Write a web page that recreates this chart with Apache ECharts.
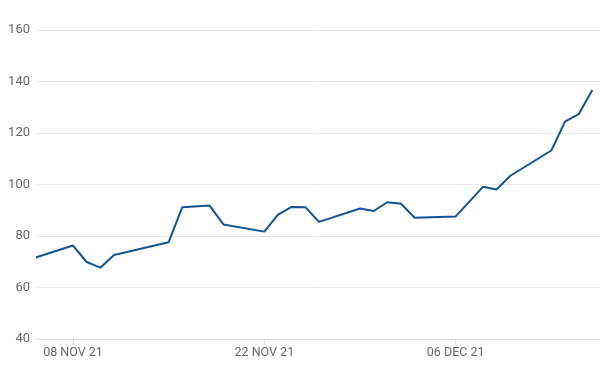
<!DOCTYPE html>
<html>
<head>
<meta charset="utf-8">
<script src="https://cdn.jsdelivr.net/npm/echarts@6/dist/echarts.min.js"></script>
<style>
html,body{margin:0;padding:0;background:#fff;}
#chart{width:600px;height:365px;}
</style>
</head>
<body>
<div id="chart"></div>
<script>
const dates = ["2021-11-05","2021-11-08","2021-11-09","2021-11-10","2021-11-11","2021-11-15","2021-11-16","2021-11-18","2021-11-19","2021-11-22","2021-11-23","2021-11-24","2021-11-25","2021-11-26","2021-11-29","2021-11-30","2021-12-01","2021-12-02","2021-12-03","2021-12-06","2021-12-08","2021-12-09","2021-12-10","2021-12-13","2021-12-14","2021-12-15","2021-12-16"];
const values = [71.2,76.3,69.9,67.7,72.6,77.6,91.2,91.8,84.5,81.7,88.3,91.3,91.2,85.5,90.7,89.7,93.1,92.5,87.1,87.6,99.1,98.1,103.4,113.2,124.4,127.3,136.7];
const xTickDates = ["2021-11-08","2021-11-22","2021-12-06"];
const yTicks = [40,60,80,100,120,140,160];

const DAY = 86400000;
const ts = s => { const p = s.split('-').map(Number); return Date.UTC(p[0], p[1]-1, p[2]); };
const MONTHS = ["JAN","FEB","MAR","APR","MAY","JUN","JUL","AUG","SEP","OCT","NOV","DEC"];
const fmt = v => { const d = new Date(v); return String(d.getUTCDate()).padStart(2,'0') + ' ' + MONTHS[d.getUTCMonth()] + ' ' + String(d.getUTCFullYear()).slice(2); };

const tickTs = xTickDates.map(ts);
const xMin = ts("2021-11-08") - 2.635 * DAY;
const xMax = ts("2021-12-16") + 0.56 * DAY;

const chart = echarts.init(document.getElementById('chart'), null, {renderer: 'canvas'});
chart.setOption({
  animation: false,
  grid: {left: 37, right: 0, top: 30, bottom: 26, containLabel: false},
  xAxis: {
    type: 'value',
    min: xMin,
    max: xMax,
    splitLine: {show: false},
    axisLine: {show: true, lineStyle: {color: '#d5dae3', width: 1}},
    axisTick: {show: true, customValues: tickTs, length: 6, lineStyle: {color: '#d5dae3'}},
    axisLabel: {
      customValues: tickTs,
      formatter: v => fmt(v),
      color: '#666666',
      fontFamily: 'Roboto',
      fontSize: 12.5,
      margin: 7
    }
  },
  yAxis: {
    type: 'value',
    min: yTicks[0],
    max: yTicks[yTicks.length-1],
    interval: 20,
    axisLine: {show: false},
    axisTick: {show: false},
    splitLine: {show: true, lineStyle: {color: '#e8e8e8', width: 1}},
    axisLabel: {color: '#666666', fontFamily: 'Roboto', fontSize: 13, margin: 7}
  },
  series: [{
    type: 'line',
    data: dates.map((d, i) => [ts(d), values[i]]),
    showSymbol: false,
    symbol: 'none',
    clip: true,
    lineStyle: {color: '#0f5499', width: 2},
    z: 3
  }]
});
</script>
</body>
</html>
